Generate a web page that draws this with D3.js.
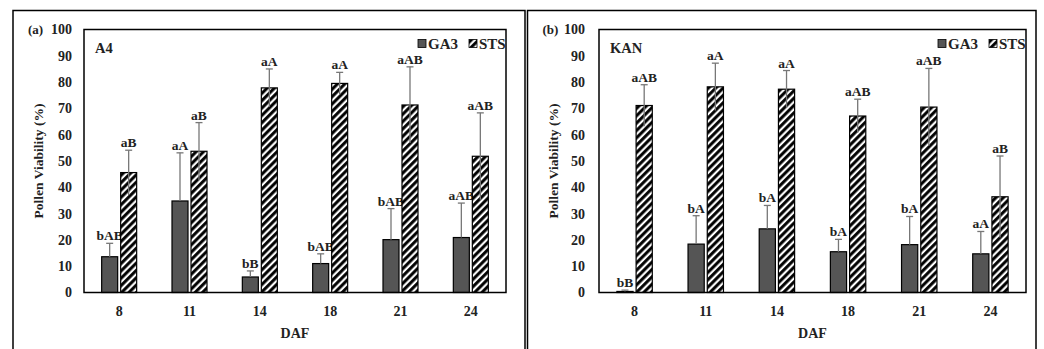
<!DOCTYPE html>
<html><head><meta charset="utf-8">
<script src="https://cdn.jsdelivr.net/npm/d3@7"></script>
<style>html,body{margin:0;padding:0;background:#fff;}svg{display:block;}</style>
</head><body><svg id="chart" width="1044" height="349"></svg>
<script>
const days = ["8","11","14","18","21","24"];
const seriesNames = ["GA3","STS"];
const yTicks = [0,10,20,30,40,50,60,70,80,90,100];

const aGA3 = [13.6, 34.8, 5.9, 11.0, 20.1, 20.9];
const aGA3Err = [5.1, 18.3, 2.3, 3.7, 11.8, 13.1];
const aGA3Lab = ["bAB","aA","bB","bAB","bAB","aAB"];
const aSTS = [45.6, 53.7, 77.8, 79.5, 71.3, 51.8];
const aSTSErr = [8.5, 10.9, 7.2, 4.2, 14.5, 16.5];
const aSTSLab = ["aB","aB","aA","aA","aAB","aAB"];

const bGA3 = [0.4, 18.4, 24.2, 15.5, 18.2, 14.7];
const bGA3Err = [0.5, 10.8, 8.9, 4.7, 10.7, 8.5];
const bGA3Lab = ["bB","bA","bA","bA","bA","aA"];
const bSTS = [71.1, 78.2, 77.3, 67.1, 70.5, 36.4];
const bSTSErr = [7.9, 9.0, 7.1, 6.4, 14.7, 15.5];
const bSTSLab = ["aAB","aA","aA","aAB","aAB","aB"];

const FONT = "'Liberation Serif', 'Times New Roman', serif";
const svg = d3.select("#chart");

const defs = svg.append("defs");
const pat = defs.append("pattern").attr("id","hatch").attr("patternUnits","userSpaceOnUse")
  .attr("width",5.2).attr("height",5.2).attr("patternTransform","rotate(45)");
pat.append("rect").attr("width",5.2).attr("height",5.2).attr("fill","#fff");
pat.append("line").attr("x1",1.6).attr("y1",0).attr("x2",1.6).attr("y2",5.2)
  .attr("stroke","#000").attr("stroke-width",3.0);

function panel(cfg){
  const g = svg.append("g");
  g.append("rect").attr("x",cfg.ox0).attr("y",cfg.oy0)
    .attr("width",cfg.ox1-cfg.ox0).attr("height",360)
    .attr("fill","none").attr("stroke","#000").attr("stroke-width",1.5);

  const x = d3.scaleBand().domain(days).range([cfg.x0,cfg.x1]).padding(0);
  const xs = d3.scaleBand().domain(seriesNames).range([0,x.bandwidth()])
    .paddingInner(0.158).paddingOuter(0.93);
  const y = d3.scaleLinear().domain([0,100]).range([cfg.y1,cfg.y0]);

  const ya = g.append("g").attr("transform",`translate(${cfg.x0},0)`)
    .call(d3.axisLeft(y).tickValues(yTicks).tickSize(0).tickPadding(cfg.tp));
  ya.select(".domain").remove();
  ya.selectAll("text").attr("font-family",FONT).attr("font-size",14)
    .attr("font-weight","bold").attr("fill","#222");

  const xa = g.append("g").attr("transform",`translate(0,${cfg.y1})`)
    .call(d3.axisBottom(x).tickSize(0).tickPadding(14));
  xa.select(".domain").remove();
  xa.selectAll("text").attr("font-family",FONT).attr("font-size",14)
    .attr("font-weight","bold").attr("fill","#222");

  const series = [
    {name:"GA3", v:cfg.ga3, e:cfg.ga3e, l:cfg.ga3l, fill:"#555555", lower:false},
    {name:"STS", v:cfg.sts, e:cfg.stse, l:cfg.stsl, fill:"url(#hatch)", lower:true}
  ];
  series.forEach(s=>{
    const bw = xs.bandwidth();
    days.forEach((d,i)=>{
      const bx = x(d)+xs(s.name);
      const cx = bx + bw/2;
      g.append("rect").attr("x",bx).attr("y",y(s.v[i])).attr("width",bw)
        .attr("height",y(0)-y(s.v[i])).attr("fill",s.fill)
        .attr("stroke","#000").attr("stroke-width",1.2);
      const top = y(s.v[i]+s.e[i]);
      const bot = s.lower ? y(Math.max(0,s.v[i]-s.e[i])) : y(s.v[i]);
      g.append("line").attr("x1",cx).attr("x2",cx).attr("y1",top).attr("y2",bot)
        .attr("stroke","#777").attr("stroke-width",1.3);
      g.append("line").attr("x1",cx-3.5).attr("x2",cx+3.5).attr("y1",top).attr("y2",top)
        .attr("stroke","#777").attr("stroke-width",1.3);
      g.append("text").attr("x",cx).attr("y",top-3).attr("text-anchor","middle")
        .attr("font-family",FONT).attr("font-size",13.5).attr("font-weight","bold")
        .attr("fill","#222").text(s.l[i]);
    });
  });

  g.append("rect").attr("x",cfg.x0).attr("y",cfg.y0).attr("width",cfg.x1-cfg.x0)
    .attr("height",cfg.y1-cfg.y0).attr("fill","none").attr("stroke","#000").attr("stroke-width",1.5);

  g.append("text").attr("x",cfg.ox0+15).attr("y",cfg.y0+4).attr("font-family",FONT)
    .attr("font-size",13).attr("font-weight","bold").attr("fill","#222").text(cfg.tag);
  g.append("text").attr("x",cfg.x0+11).attr("y",cfg.y0+23).attr("font-family",FONT)
    .attr("font-size",14.5).attr("font-weight","bold").attr("fill","#222").text(cfg.name);
  g.append("text").attr("transform",`translate(${cfg.x0-41},${(cfg.y0+cfg.y1)/2}) rotate(-90)`)
    .attr("text-anchor","middle").attr("font-family",FONT).attr("font-size",13.5)
    .attr("font-weight","bold").attr("fill","#222").text("Pollen Viability (%)");
  g.append("text").attr("x",(cfg.x0+cfg.x1)/2).attr("y",338).attr("text-anchor","middle")
    .attr("font-family",FONT).attr("font-size",14).attr("font-weight","bold")
    .attr("fill","#222").text("DAF");

  const lg = g.append("g").attr("transform",`translate(${cfg.x1-88},${cfg.y0+10})`);
  lg.append("rect").attr("x",0).attr("y",0).attr("width",8).attr("height",8)
    .attr("fill","#555").attr("stroke","#000").attr("stroke-width",0.8);
  lg.append("text").attr("x",10).attr("y",9).attr("font-family",FONT).attr("font-size",15)
    .attr("font-weight","bold").attr("fill","#222").text(seriesNames[0]);
  lg.append("rect").attr("x",51).attr("y",0).attr("width",8).attr("height",8)
    .attr("fill","url(#hatch)").attr("stroke","#000").attr("stroke-width",0.8);
  lg.append("text").attr("x",61).attr("y",9).attr("font-family",FONT).attr("font-size",15)
    .attr("font-weight","bold").attr("fill","#222").text(seriesNames[1]);
}

panel({ox0:13, oy0:10.5, ox1:525, x0:84, x1:506, y0:29.5, y1:292.5, tp:12, tag:"(a)", name:"A4",
  ga3:aGA3, ga3e:aGA3Err, ga3l:aGA3Lab, sts:aSTS, stse:aSTSErr, stsl:aSTSLab});
panel({ox0:527.5, oy0:10.5, ox1:1036, x0:599, x1:1026, y0:29.5, y1:292.5, tp:14, tag:"(b)", name:"KAN",
  ga3:bGA3, ga3e:bGA3Err, ga3l:bGA3Lab, sts:bSTS, stse:bSTSErr, stsl:bSTSLab});
</script></body></html>
